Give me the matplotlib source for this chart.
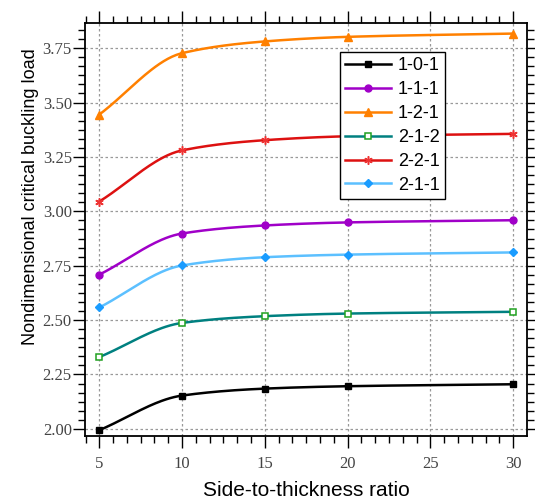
import numpy as np
import matplotlib
matplotlib.use('Agg')
import matplotlib.pyplot as plt
from matplotlib.lines import Line2D
from matplotlib.ticker import MultipleLocator

# side-to-thickness ratio
ratio = [5, 10, 15, 20, 30]

# nondimensional critical buckling load for each scheme
load_101 = [1.994, 2.153, 2.185, 2.196, 2.205]
load_111 = [2.709, 2.898, 2.935, 2.949, 2.959]
load_121 = [3.445, 3.727, 3.781, 3.802, 3.817]
load_212 = [2.330, 2.487, 2.518, 2.530, 2.538]
load_221 = [3.045, 3.280, 3.327, 3.345, 3.356]
load_211 = [2.558, 2.751, 2.789, 2.801, 2.811]

labels = ['1-0-1', '1-1-1', '1-2-1', '2-1-2', '2-2-1', '2-1-1']


def smooth(x, y, n=200):
    # monotone cubic hermite (Fritsch-Carlson), just for drawing the curve
    x = np.asarray(x, float)
    y = np.asarray(y, float)
    h = np.diff(x)
    d = np.diff(y) / h
    m = np.zeros_like(y)
    m[0], m[-1] = d[0], d[-1]
    for k in range(1, len(x) - 1):
        if d[k - 1] * d[k] > 0:
            w1 = 2 * h[k] + h[k - 1]
            w2 = h[k] + 2 * h[k - 1]
            m[k] = (w1 + w2) / (w1 / d[k - 1] + w2 / d[k])
    xs = np.linspace(x[0], x[-1], n)
    i = np.clip(np.searchsorted(x, xs) - 1, 0, len(x) - 2)
    t = (xs - x[i]) / h[i]
    h00 = 2 * t**3 - 3 * t**2 + 1
    h10 = t**3 - 2 * t**2 + t
    h01 = -2 * t**3 + 3 * t**2
    h11 = t**3 - t**2
    ys = h00 * y[i] + h10 * h[i] * m[i] + h01 * y[i + 1] + h11 * h[i] * m[i + 1]
    return xs, ys


series = [
    (load_101, dict(color='black', marker='s', mfc='black', mec='black', ms=4.5)),
    (load_111, dict(color='#a000c8', marker='o', mfc='#a000c8', mec='#a000c8', ms=5)),
    (load_121, dict(color='#ff8000', marker='^', mfc='#ff8000', mec='#ff8000', ms=5.5)),
    (load_212, dict(color='#008080', marker='s', mfc='white', mec='#20a020', ms=4.5, mew=1.1)),
    (load_221, dict(color='#dd1111', marker=(6, 2, 0), mfc='#dd1111', mec='#ee3333', ms=6, mew=1.1)),
    (load_211, dict(color='#5cc0ff', marker='D', mfc='#1a9cff', mec='#1a9cff', ms=4)),
]

fig = plt.figure(figsize=(5.35, 5.03), dpi=100)
ax = fig.add_axes([0.159, 0.134, 0.826, 0.820])

handles = []
for vals, st in series:
    xs, ys = smooth(ratio, vals)
    ax.plot(xs, ys, color=st['color'], lw=1.8, zorder=3)
    mk = {k: v for k, v in st.items() if k != 'color'}
    ax.plot(ratio, vals, ls='none', zorder=4, **mk)
    handles.append(Line2D([], [], color=st['color'], lw=1.8, **mk))

ax.set_xlim(4.14, 30.83)
ax.set_ylim(1.969, 3.865)
ax.xaxis.set_major_locator(MultipleLocator(5))
ax.xaxis.set_minor_locator(MultipleLocator(5 / 6))
ax.yaxis.set_major_locator(MultipleLocator(0.25))
ax.yaxis.set_minor_locator(MultipleLocator(0.25 / 6))
ax.yaxis.set_major_formatter(matplotlib.ticker.FormatStrFormatter('%.2f'))

ax.tick_params(which='both', direction='out', top=True, right=True, width=1.0)
ax.tick_params(which='major', length=8.5)
ax.tick_params(which='minor', length=5)
ax.tick_params(axis='y', which='major', pad=1)
ax.tick_params(axis='x', which='major', pad=6)
for lab in ax.get_xticklabels() + ax.get_yticklabels():
    lab.set_family('Liberation Serif')
    lab.set_fontsize(12)
    lab.set_color('#444444')
for s in ax.spines.values():
    s.set_linewidth(1.3)

ax.grid(True, which='major', ls=(0, (2, 2)), color='#999999', lw=0.9)
ax.set_axisbelow(True)

ax.set_xlabel('Side-to-thickness ratio', family='Liberation Sans', fontsize=15, labelpad=7)
ax.set_ylabel('Nondimensional critical buckling load', family='Liberation Sans', fontsize=13)
ax.yaxis.set_label_coords(-0.105, 0.579)

leg = ax.legend(handles, labels, loc='upper left', bbox_to_anchor=(0.577, 0.93),
                prop={'family': 'Liberation Sans', 'size': 13}, handlelength=2.5,
                numpoints=1, fancybox=False, framealpha=1, edgecolor='black',
                borderpad=0.3, labelspacing=0.38, handletextpad=0.4, borderaxespad=0)
leg.get_frame().set_linewidth(1.0)

fig.savefig('out.png', dpi=100)
